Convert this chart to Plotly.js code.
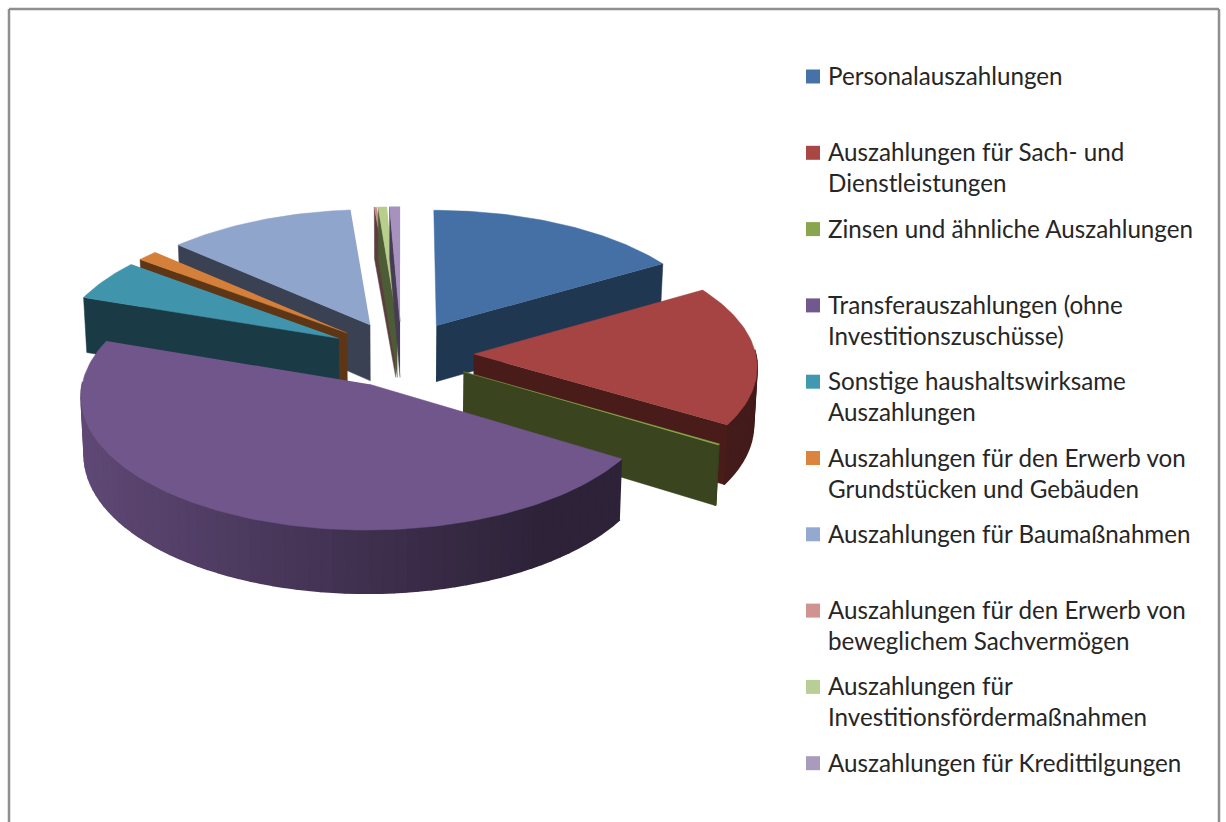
<!DOCTYPE html>
<html>
<head>
<meta charset="utf-8">
<script src="https://cdn.plot.ly/plotly-3.0.1.min.js"></script>
<style>html,body{margin:0;padding:0;background:#fff}#chart{width:1226px;height:822px}</style>
</head>
<body>
<div id="chart"></div>
<script>
const categories = [
  "Personalauszahlungen",
  "Auszahlungen für Sach- und<br>Dienstleistungen",
  "Zinsen und ähnliche Auszahlungen",
  "Transferauszahlungen (ohne<br>Investitionszuschüsse)",
  "Sonstige haushaltswirksame<br>Auszahlungen",
  "Auszahlungen für den Erwerb von<br>Grundstücken und Gebäuden",
  "Auszahlungen für Baumaßnahmen",
  "Auszahlungen für den Erwerb von<br>beweglichem Sachvermögen",
  "Auszahlungen für<br>Investitionsfördermaßnahmen",
  "Auszahlungen für Kredittilgungen"
];
const values = [16.2, 17.3, 0.15, 46.0, 5.1, 1.3, 11.7, 0.15, 0.55, 0.65];
const topColors = ["#4470a6","#a54442","#86a84a","#71568c","#4095ad","#d5803a","#8fa5cc","#cc8e8d","#b7ce8d","#a691bf"];
const wallColors = ["#203752","#4a1c19","#3a441e","#2c2238","#1a3a46","#5e3615","#3a4153","#5c3d3e","#4e5c35","#463c55"];
const keyColors = ["#4672a8","#aa4644","#89a54e","#71588f","#4198af","#db843d","#93a9cf","#d19392","#b9cd96","#a99bbd"];
const paintOrder = [7,8,9,0,6,5,4,1,2,3];

// projection of the tilted, exploded pie onto the page
const cx = 401.5, cy = 354, Sx = 282, H = 129, persp = 0.08, pull = 0.256, depth = 57, shrink = 0.99;
const total = values.reduce((a,b)=>a+b,0);
function project(theta, r, mid, lower){
  const u = r*Math.sin(theta) + pull*Math.sin(mid);
  const v = r*Math.cos(theta) + pull*Math.cos(mid);
  const w = 1 + persp*v;
  return [cx + Sx*u/w*(lower?shrink:1), cy - H*v/w + (lower?depth/w:0)];
}
function rgb(hex){return [1,3,5].map(i=>parseInt(hex.substr(i,2),16));}
function poly(pts,color,name,lw){
  return {type:"scatter",mode:"lines",x:pts.map(p=>p[0]),y:pts.map(p=>p[1]),fill:"toself",fillcolor:color,
    line:{color:color,width:lw},hoverinfo:"skip",showlegend:false,name:name||""};
}
let angle = 0;
const slices = values.map(v=>{const a0=angle; angle+=v/total*2*Math.PI; return {a0,a1:angle,mid:(a0+angle)/2};});
const traces = [];
paintOrder.forEach(i=>{
  const s = slices[i], name = categories[i].replace("<br>"," ");
  // outer wall: only the part that faces the viewer
  const n = Math.max(2,Math.ceil((s.a1-s.a0)/0.04));
  const top = rgb(topColors[i]);
  for(let k=0;k<n;k++){
    const a = s.a0+(s.a1-s.a0)*k/n, b = s.a0+(s.a1-s.a0)*(k+1)/n;
    if(Math.cos((a+b)/2)>=0.02) continue;
    const sn = Math.sin((a+b)/2);
    const f = sn>=0.55 ? 0.40 : 0.40+(0.55-sn)/1.55*0.45;
    const col = "rgb("+top.map(c=>Math.round(c*f)).join(",")+")";
    traces.push(poly([project(a,1,s.mid,false),project(b,1,s.mid,false),project(b,1,s.mid,true),project(a,1,s.mid,true)],col,name,1.6));
  }
  // radial cut walls: start edge faces the viewer on the left half, end edge on the right half
  if(Math.sin(s.a0)<-0.001) traces.push(poly([project(0,0,s.mid,false),project(s.a0,1,s.mid,false),project(s.a0,1,s.mid,true),project(0,0,s.mid,true)],wallColors[i],name,0.5));
  if(Math.sin(s.a1)>0.001) traces.push(poly([project(0,0,s.mid,false),project(s.a1,1,s.mid,false),project(s.a1,1,s.mid,true),project(0,0,s.mid,true)],wallColors[i],name,0.5));
  const face=[project(0,0,s.mid,false)];
  const m = Math.max(2,Math.ceil((s.a1-s.a0)/0.02));
  for(let k=0;k<=m;k++) face.push(project(s.a0+(s.a1-s.a0)*k/m,1,s.mid,false));
  traces.push(poly(face,topColors[i],name,0.5));
});

// legend column: equal row pitch, key aligned with the first text line
const legendKeyX = 813, legendTextX = 828, legendFirstY = 76.5, legendPitch = 76.3;
categories.forEach((c,i)=>{
  traces.push({type:"scatter",mode:"markers",x:[legendKeyX],y:[legendFirstY+i*legendPitch],
    marker:{symbol:"square",size:14,color:keyColors[i]},hoverinfo:"name",name:c.replace("<br>"," "),showlegend:false});
});
const annotations = categories.map((c,i)=>({
  xref:"x",yref:"y",x:legendTextX,y:legendFirstY+i*legendPitch-15.5,text:c,showarrow:false,
  xanchor:"left",yanchor:"top",align:"left",xshift:-2,yshift:2,
  font:{family:"Lato, 'Open Sans', sans-serif",size:24.2,color:"#262626"}
}));
const border="#8f8f8f";
const shapes=[[9,822,9,9],[9,9,1219,9],[1219,9,1219,822]].map(a=>({type:"line",xref:"x",yref:"y",x0:a[0],y0:a[1],x1:a[2],y1:a[3],line:{color:border,width:2.5}}));

Plotly.newPlot("chart",traces,{
  width:1226,height:822,margin:{l:0,r:0,t:0,b:0},paper_bgcolor:"#fff",plot_bgcolor:"#fff",showlegend:false,
  xaxis:{range:[0,1226],visible:false,fixedrange:true},
  yaxis:{range:[822,0],visible:false,fixedrange:true},
  annotations,shapes
},{displayModeBar:false,staticPlot:true});
</script>
</body>
</html>
